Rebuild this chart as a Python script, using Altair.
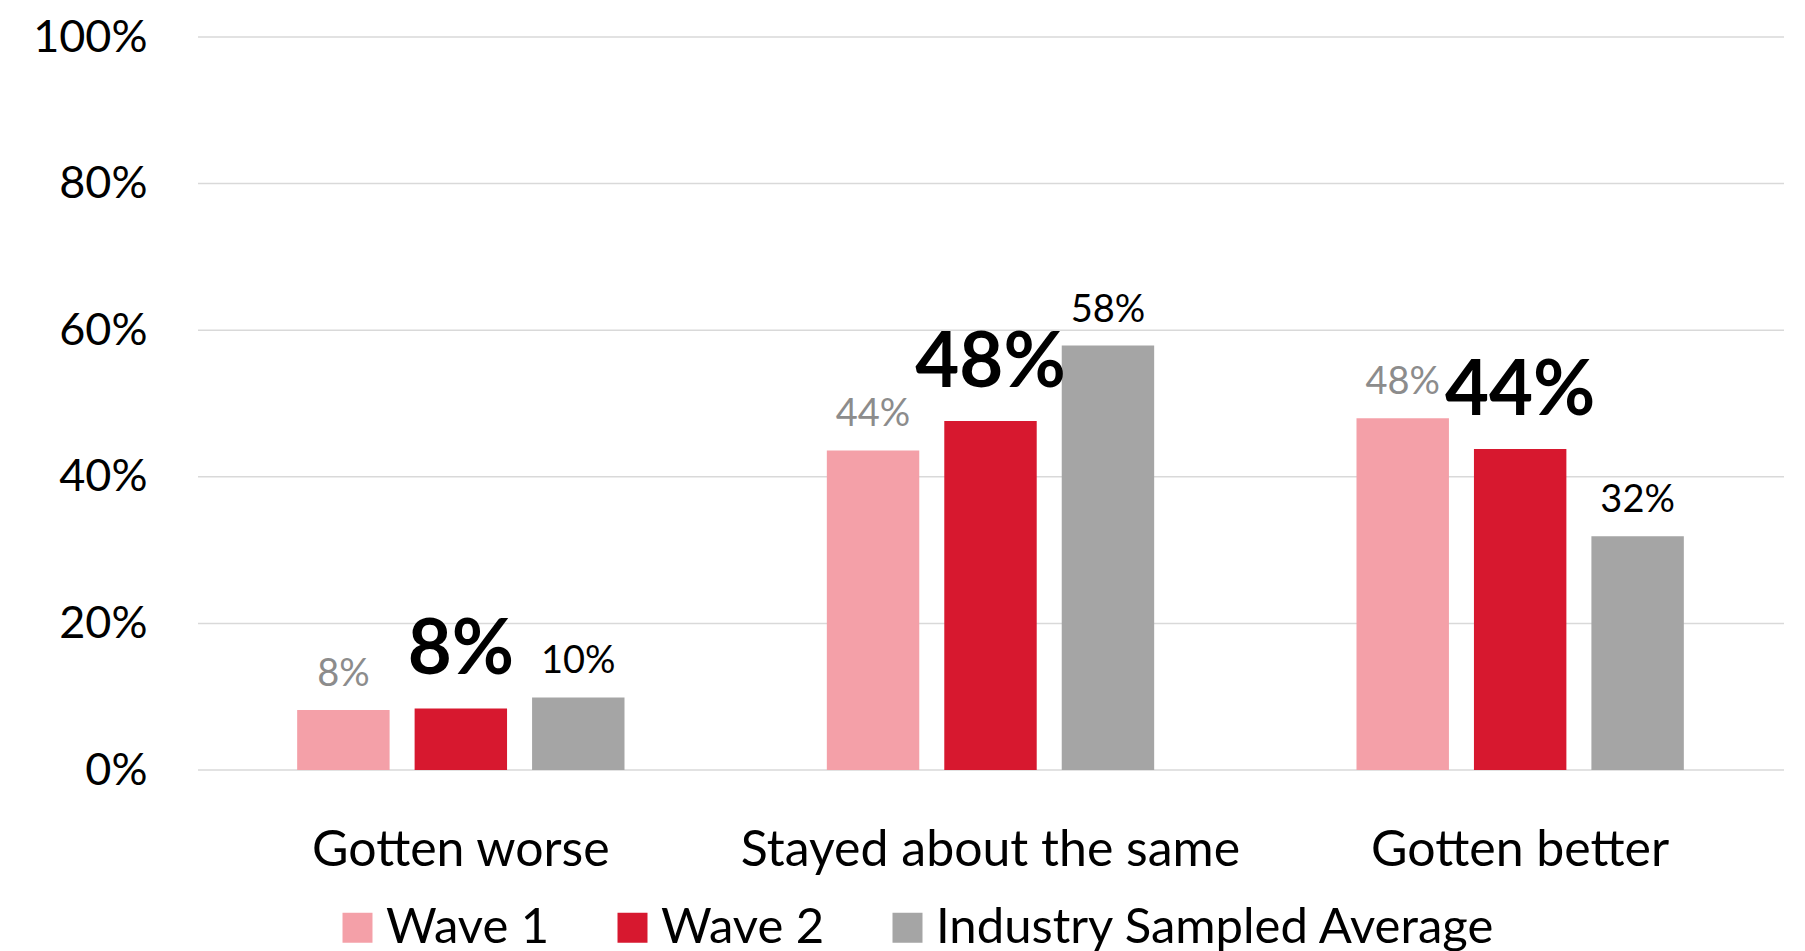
import altair as alt
import pandas as pd

categories = ["Gotten worse", "Stayed about the same", "Gotten better"]
series = ["Wave 1", "Wave 2", "Industry Sampled Average"]
wave1 = [8.2, 43.6, 48.0]
wave2 = [8.4, 47.6, 43.8]
industry = [9.9, 57.9, 31.9]
colors = ["#F4A0A8", "#D7182F", "#A5A5A5"]
y_ticks = [0, 20, 40, 60, 80, 100]

rows = []
for s, vals in zip(series, [wave1, wave2, industry]):
    for c, v in zip(categories, vals):
        rows.append({"category": c, "series": s, "value": v})
df = pd.DataFrame(rows)
grid_df = pd.DataFrame({"value": y_ticks})

FONT = "Lato"
W, H = 1589, 733

x_enc = alt.X(
    "category:N",
    sort=categories,
    scale=alt.Scale(paddingInner=0.382, paddingOuter=0.191),
    axis=alt.Axis(
        title=None, labelAngle=0, labelFontSize=50, labelColor="black",
        labelFont=FONT, ticks=False, tickSize=0, domain=False, grid=False,
        labelPadding=95, labelBaseline="alphabetic", labelLimit=0,
    ),
)
xo_enc = alt.XOffset(
    "series:N", sort=series,
    scale=alt.Scale(domain=series, paddingInner=0.213, paddingOuter=0),
)
y_scale = alt.Scale(domain=[0, 100], nice=False)
y_axis = alt.Axis(
    title=None, values=y_ticks, labelExpr="datum.value + '%'",
    labelFontSize=45, labelFont=FONT, labelColor="black",
    ticks=False, tickSize=0, domain=False, grid=False, labelPadding=49,
)
y_enc = alt.Y("value:Q", scale=y_scale, axis=y_axis)

grid = alt.Chart(grid_df).mark_rule(color="#D9D9D9", strokeWidth=1.5).encode(
    y=alt.Y("value:Q", scale=y_scale, axis=y_axis),
    x=alt.value(2),
    x2=alt.value(W - 1),
)

bars = alt.Chart(df).mark_bar().encode(
    x=x_enc,
    xOffset=xo_enc,
    y=y_enc,
    color=alt.Color(
        "series:N", sort=series,
        scale=alt.Scale(domain=series, range=colors),
        legend=alt.Legend(
            title=None, orient="none", direction="horizontal",
            legendX=137, legendY=866, symbolType="square", symbolSize=900,
            symbolStrokeWidth=0, symbolOpacity=1, labelFontSize=49,
            labelFont=FONT, labelColor="black", labelOffset=4,
            columnPadding=58, labelLimit=0, padding=0,
        ),
    ),
)

def labels(name, color, size, weight, dy):
    return alt.Chart(df).transform_filter(
        alt.datum.series == name
    ).transform_calculate(
        label="format(datum.value, '.0f') + '%'"
    ).mark_text(
        color=color, fontSize=size, fontWeight=weight, font=FONT,
        baseline="alphabetic", dy=dy,
    ).encode(
        x=alt.X("category:N", sort=categories),
        xOffset=alt.XOffset("series:N", sort=series),
        y=alt.Y("value:Q"),
        text="label:N",
    )

lab1 = labels("Wave 1", "#8C8C8C", 38, "normal", -24)
lab2 = labels("Wave 2", "#000000", 76, "bold", -34)
lab3 = labels("Industry Sampled Average", "#000000", 38, "normal", -24)

chart = alt.layer(grid, bars, lab1, lab2, lab3).properties(
    width=W, height=H,
    background="white",
    autosize=alt.AutoSizeParams(type="none"),
    padding={"left": 188, "top": 29, "right": 10, "bottom": 195},
).configure_view(stroke=None)

chart.save("out.html", embed_options={"renderer": "svg", "actions": False})
